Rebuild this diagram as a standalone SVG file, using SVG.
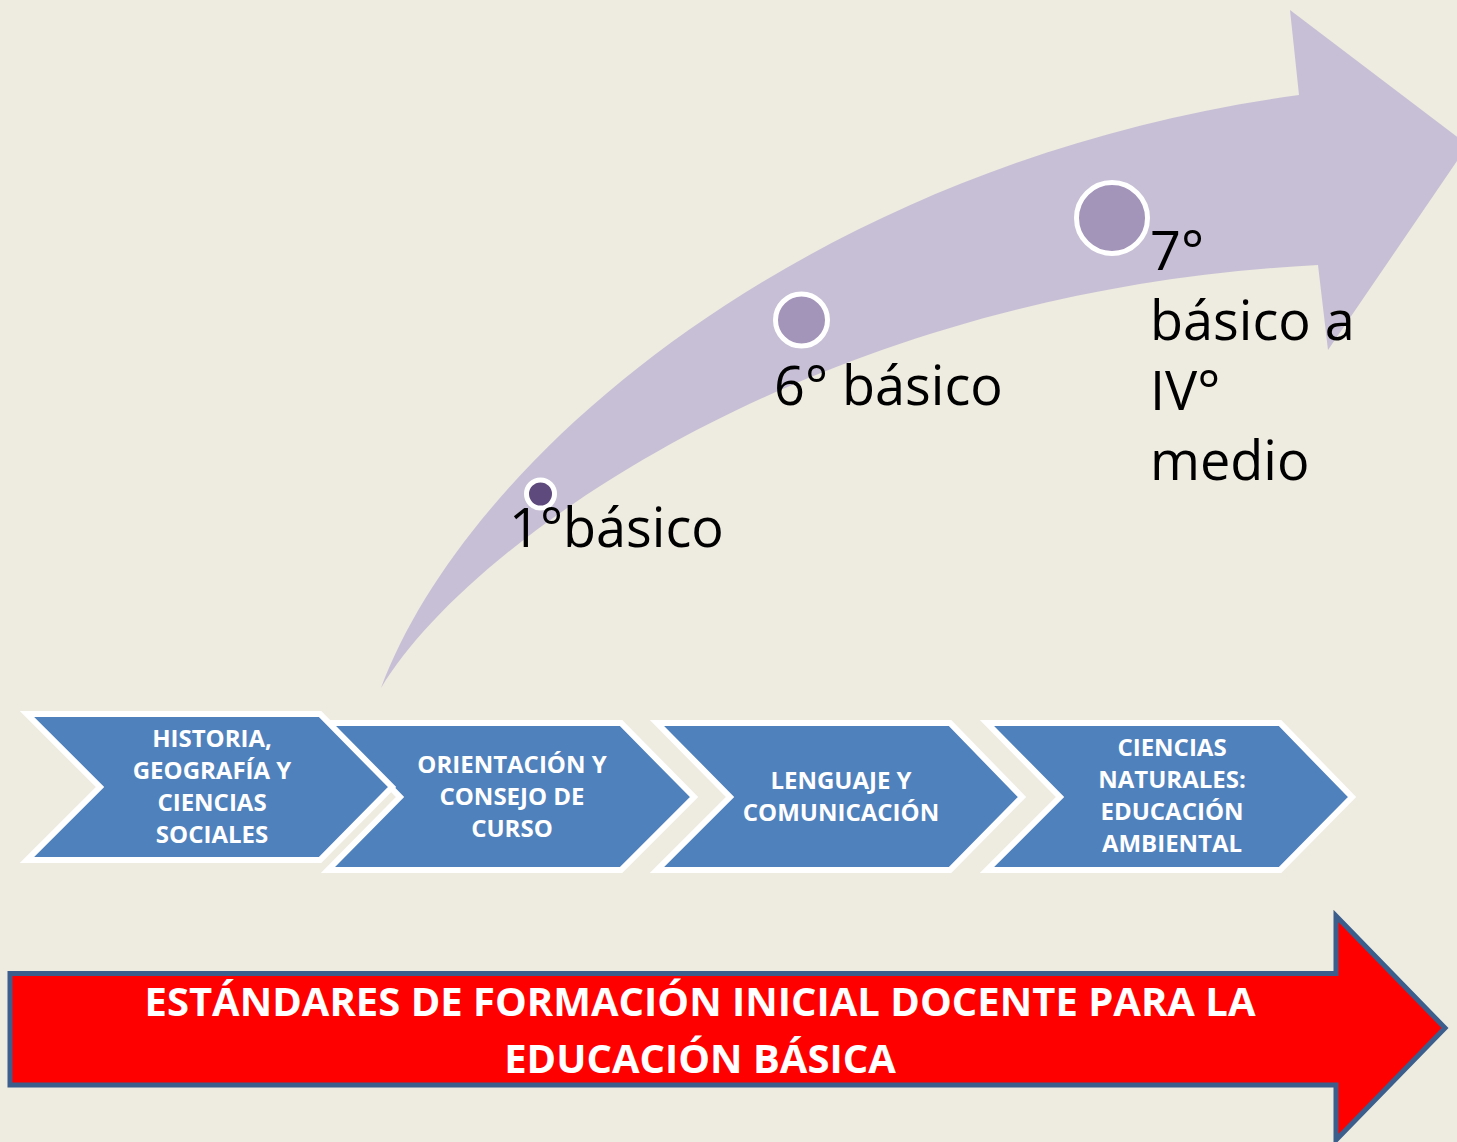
<svg xmlns="http://www.w3.org/2000/svg" width="1457" height="1142" viewBox="0 0 1457 1142">
<style>
.chev{fill:#4F81BD;stroke:#FFFFFF;stroke-width:6;stroke-linejoin:miter}
.ct{font-family:"Open Sans","Noto Sans",sans-serif;font-weight:bold;font-size:24px;fill:#FFFFFF;text-anchor:middle}
.lbl{font-family:"Open Sans","Noto Sans",sans-serif;font-size:54px;fill:#000000}
.dot{stroke:#FFFFFF;stroke-width:5}
.rt{font-family:"Open Sans","Noto Sans",sans-serif;font-weight:bold;font-size:40px;fill:#FFFFFF;text-anchor:middle}
</style>
<rect width="1457" height="1142" fill="#EEEBE0"/>
<g id="curved-arrow">
<path d="M381,688 C470,450 820,160 1299,95 L1290,10 L1468,145 L1328,350 L1318,265 C820,290 470,540 381,688 Z" fill="#C7BFD5"/>
</g>
<g id="stage-1">
<circle class="dot" cx="540.5" cy="494" r="14" fill="#5E4A7C" stroke-width="4"/>
<text class="lbl" x="509" y="547">1°básico</text>
</g>
<g id="stage-6">
<circle class="dot" cx="801.5" cy="320" r="26" fill="#A394B9"/>
<text class="lbl" x="774" y="405">6° básico</text>
</g>
<g id="stage-7">
<circle class="dot" cx="1112" cy="218" r="35.5" fill="#A394B9"/>
<text class="lbl" x="1150" y="270">7°</text>
<text class="lbl" x="1150" y="340">básico a</text>
<text class="lbl" x="1150" y="410">IV°</text>
<text class="lbl" x="1150" y="480">medio</text>
</g>
<g id="chevron-2">
<polygon class="chev" points="328,723 621,723 694,797 621,870 328,870 400,797"/>
<text class="ct" x="512" y="773">ORIENTACIÓN Y</text>
<text class="ct" x="512" y="805">CONSEJO DE</text>
<text class="ct" x="512" y="837">CURSO</text>
</g>
<g id="chevron-1">
<polygon class="chev" points="27,714 320,714 392,787 320,860 27,860 100,787"/>
<text class="ct" x="212" y="747">HISTORIA,</text>
<text class="ct" x="212" y="779">GEOGRAFÍA Y</text>
<text class="ct" x="212" y="811">CIENCIAS</text>
<text class="ct" x="212" y="843">SOCIALES</text>
</g>
<g id="chevron-3">
<polygon class="chev" points="657,723 950,723 1022,797 950,870 657,870 730,797"/>
<text class="ct" x="841" y="789">LENGUAJE Y</text>
<text class="ct" x="841" y="821">COMUNICACIÓN</text>
</g>
<g id="chevron-4">
<polygon class="chev" points="987,723 1280,723 1352,797 1280,870 987,870 1060,797"/>
<text class="ct" x="1172" y="756">CIENCIAS</text>
<text class="ct" x="1172" y="788">NATURALES:</text>
<text class="ct" x="1172" y="820">EDUCACIÓN</text>
<text class="ct" x="1172" y="852">AMBIENTAL</text>
</g>
<g id="red-arrow">
<polygon points="10,973.5 1336,973.5 1336,916 1445,1028 1336,1140 1336,1085 10,1085" fill="#FF0000" stroke="#3B5E8C" stroke-width="5"/>
<text class="rt" x="700" y="1016">ESTÁNDARES DE FORMACIÓN INICIAL DOCENTE PARA LA</text>
<text class="rt" x="700" y="1073">EDUCACIÓN BÁSICA</text>
</g>
<g id="connectors"></g>
</svg>
